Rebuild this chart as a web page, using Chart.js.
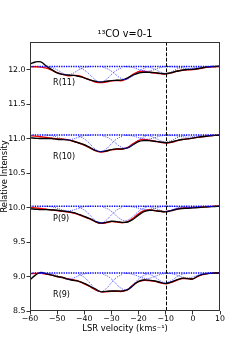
<!DOCTYPE html>
<html>
<head>
<meta charset="utf-8">
<script src="https://cdn.jsdelivr.net/npm/chart.js@4"></script>
<style>
  html, body { margin: 0; padding: 0; background: #fff; }
  #wrap { width: 245px; height: 350px; }
</style>
</head>
<body>
<div id="wrap"><canvas id="spec"></canvas></div>
<script>
// velocity grid (km/s) for observed + model spectra
const vel = [-60,-58,-56,-54,-52,-50,-48,-46,-44,-42,-40,-38,-36,-34,-32,-30,-28,-26,
             -24,-22,-20,-18,-16,-14,-12,-10,-8,-6,-4,-2,0,2,4,6,8,10];

const specNames = ["R(11)", "R(10)", "P(9)", "R(9)"];
const baseLevel = [12.045, 11.05, 10.02, 9.05];

const obsR11 = [12.08,12.11,12.11,12.05,12.00,11.95,11.93,11.92,11.915,11.90,11.88,11.85,11.83,11.82,11.83,11.84,11.845,11.85,
                11.88,11.92,11.95,11.96,11.96,11.955,11.945,11.94,11.955,11.975,11.99,12.0,12.005,12.015,12.03,12.04,12.045,12.05];
const modR11 = [12.04,12.04,12.035,12.02,11.99,11.955,11.93,11.91,11.915,11.91,11.88,11.85,11.82,11.81,11.82,11.835,11.84,11.84,
                11.87,11.93,11.97,11.975,11.96,11.95,11.94,11.935,11.95,11.975,11.99,11.995,12.0,12.01,12.025,12.035,12.04,12.045];

const obsR10 = [11.01,11.005,11.0,11.0,11.0,10.99,10.985,10.98,10.96,10.935,10.91,10.87,10.83,10.81,10.82,10.84,10.85,10.85,
                10.865,10.91,10.955,10.97,10.97,10.96,10.95,10.94,10.95,10.97,10.985,10.995,11.005,11.02,11.03,11.04,11.045,11.05];
const modR10 = [11.04,11.035,11.025,11.015,11.005,10.995,10.99,10.98,10.96,10.935,10.905,10.865,10.825,10.805,10.815,10.835,10.845,10.845,
                10.87,10.925,10.97,10.985,10.975,10.96,10.945,10.935,10.945,10.965,10.985,10.995,11.005,11.02,11.03,11.04,11.045,11.05];

const obsP9 = [9.98,9.975,9.97,9.97,9.965,9.96,9.95,9.94,9.925,9.90,9.87,9.84,9.80,9.775,9.785,9.80,9.795,9.785,
               9.79,9.83,9.89,9.94,9.96,9.955,9.945,9.94,9.955,9.975,9.985,9.99,9.995,10.0,10.005,10.01,10.015,10.02];
const modP9 = [10.0,9.995,9.985,9.975,9.965,9.955,9.945,9.935,9.92,9.895,9.865,9.835,9.795,9.77,9.78,9.795,9.79,9.78,
               9.795,9.845,9.91,9.955,9.965,9.955,9.945,9.94,9.955,9.975,9.99,9.995,10.0,10.005,10.01,10.015,10.02,10.02];

const obsR9 = [8.95,9.02,9.06,9.04,9.02,9.0,8.985,8.96,8.945,8.93,8.90,8.86,8.82,8.78,8.785,8.79,8.79,8.79,
               8.81,8.87,8.93,8.95,8.945,8.935,8.915,8.90,8.92,8.95,8.975,8.97,8.965,9.01,9.035,9.045,9.05,9.05];
const modR9 = [9.04,9.045,9.045,9.035,9.02,9.0,8.985,8.965,8.95,8.93,8.895,8.855,8.81,8.78,8.78,8.785,8.785,8.785,
               8.81,8.88,8.925,8.945,8.94,8.93,8.91,8.895,8.915,8.945,8.97,8.97,8.965,9.005,9.03,9.045,9.05,9.05];

// velocity grids of the six fitted components
const compVel = [
  [-54,-52,-50,-48,-46,-44,-42,-40,-38],
  [-42,-40,-38,-36,-34,-32,-30,-28,-26],
  [-33,-31,-29,-27,-25,-23,-21,-19,-17],
  [-25,-23,-21,-19,-17,-15,-13,-11,-9],
  [-18,-16,-14,-12,-10,-8,-6,-4,-2],
  [-10,-8,-6,-4,-2,0,2,4,6]
];

const compR11 = [
  [12.041,12.029,11.996,11.949,11.925,11.949,11.996,12.029,12.041],
  [12.029,11.993,11.928,11.854,11.82,11.854,11.928,11.993,12.029],
  [12.032,12.001,11.946,11.884,11.855,11.884,11.946,12.001,12.032],
  [12.043,12.036,12.016,11.989,11.975,11.989,12.016,12.036,12.043],
  [12.042,12.032,12.004,11.965,11.945,11.965,12.004,12.032,12.042],
  [12.044,12.041,12.033,12.021,12.015,12.021,12.033,12.041,12.044]
];
const compR10 = [
  [11.048,11.041,11.021,10.994,10.98,10.994,11.021,11.041,11.048],
  [11.033,10.995,10.925,10.846,10.81,10.846,10.925,10.995,11.033],
  [11.037,11.006,10.951,10.889,10.86,10.889,10.951,11.006,11.037],
  [11.048,11.042,11.025,11.002,10.99,11.002,11.025,11.042,11.048],
  [11.047,11.037,11.009,10.97,10.95,10.97,11.009,11.037,11.047],
  [11.049,11.046,11.038,11.026,11.02,11.026,11.038,11.046,11.049]
];
const compP9 = [
  [10.018,10.011,9.991,9.964,9.95,9.964,9.991,10.011,10.018],
  [10.003,9.964,9.893,9.812,9.775,9.812,9.893,9.964,10.003],
  [10.005,9.972,9.911,9.842,9.81,9.842,9.911,9.972,10.005],
  [10.019,10.013,10.0,9.98,9.97,9.98,10.0,10.013,10.019],
  [10.018,10.01,9.989,9.96,9.945,9.96,9.989,10.01,10.018],
  [10.019,10.017,10.012,10.004,10.0,10.004,10.012,10.017,10.019]
];
const compR9 = [
  [9.047,9.038,9.013,8.978,8.96,8.978,9.013,9.038,9.047],
  [9.031,8.988,8.91,8.821,8.78,8.821,8.91,8.988,9.031],
  [9.033,8.995,8.925,8.846,8.81,8.846,8.925,8.995,9.033],
  [9.048,9.039,9.017,8.986,8.97,8.986,9.017,9.039,9.048],
  [9.046,9.031,8.993,8.938,8.91,8.938,8.993,9.031,9.046],
  [9.048,9.041,9.021,8.994,8.98,8.994,9.021,9.041,9.048]
];

const obsAll = [obsR11, obsR10, obsP9, obsR9];
const modAll = [modR11, modR10, modP9, modR9];
const compAll = [compR11, compR10, compP9, compR9];

const xTicks = [-60,-50,-40,-30,-20,-10,0,10];
const yTicks = [8.5,9.0,9.5,10.0,10.5,11.0,11.5,12.0];
const refVel = -10;
// where the transition names sit, in data units
const labelVel = -51.5;
const labelY = [11.80, 10.74, 9.84, 8.73];

const FONT = "'DejaVu Sans', sans-serif";

function pts(xs, ys) {
  return xs.map((x, i) => ({ x: x, y: ys[i] }));
}

const datasets = [];
specNames.forEach((name, s) => {
  datasets.push({
    data: pts([vel[0], vel[vel.length - 1]], [baseLevel[s], baseLevel[s]]),
    borderColor: "#0000ff", borderWidth: 1.5, borderDash: [1.3, 1.1],
    pointRadius: 0, order: 1
  });
  compAll[s].forEach((c, k) => {
    datasets.push({
      data: pts(compVel[k], c),
      borderColor: "rgba(30,30,255,0.8)", borderWidth: 1, borderDash: [1, 1.2],
      pointRadius: 0, tension: 0.4, order: 1
    });
  });
  datasets.push({
    data: pts(vel, obsAll[s]),
    borderColor: "#000", borderWidth: 1.4, pointRadius: 0, tension: 0.4, order: 2
  });
  datasets.push({
    data: pts(vel, modAll[s]),
    borderColor: "#ff0000", borderWidth: 1.4, pointRadius: 0, tension: 0.4, order: 3
  });
});

const extras = {
  id: "extras",
  afterDatasetsDraw(chart) {
    const { ctx, chartArea: a, scales: { x, y } } = chart;
    ctx.save();
    // reference velocity
    const px = Math.round(x.getPixelForValue(refVel)) + 0.5;
    ctx.strokeStyle = "#000";
    ctx.lineWidth = 1;
    ctx.setLineDash([3.7, 1.6]);
    ctx.beginPath();
    ctx.moveTo(px, a.top);
    ctx.lineTo(px, a.bottom);
    ctx.stroke();
    ctx.setLineDash([]);
    // labels
    ctx.fillStyle = "#000";
    ctx.font = "8px " + FONT;
    ctx.textAlign = "left";
    ctx.textBaseline = "middle";
    specNames.forEach((n, i) => {
      ctx.fillText(n, x.getPixelForValue(labelVel), y.getPixelForValue(labelY[i]));
    });
    // frame
    ctx.strokeStyle = "#333";
    ctx.lineWidth = 1;
    ctx.strokeRect(Math.round(a.left) + 0.5, Math.round(a.top) + 0.5,
                   Math.round(a.right - a.left) - 1, Math.round(a.bottom - a.top) - 1);
    ctx.restore();
  }
};

new Chart(document.getElementById("spec"), {
  type: "line",
  data: { datasets: datasets },
  options: {
    responsive: true,
    maintainAspectRatio: false,
    animation: false,
    layout: { padding: { left: 0, right: 25, top: 0, bottom: 0 } },
    plugins: {
      legend: { display: false },
      tooltip: { enabled: false },
      title: {
        display: true,
        fullSize: false,
        text: "\u00B9\u00B3CO v=0-1",
        color: "#000",
        font: { family: FONT, size: 9.7, weight: "normal" },
        padding: { top: 28.5, bottom: 1.8 }
      }
    },
    scales: {
      x: {
        type: "linear",
        min: -60, max: 10,
        afterBuildTicks: (sc) => { sc.ticks = xTicks.map(v => ({ value: v })); },
        afterFit: (sc) => { sc.height = 39; },
        border: { display: false },
        grid: { drawOnChartArea: false, drawTicks: true, tickLength: 3.5, color: "#333" },
        ticks: {
          padding: 0, color: "#000", maxRotation: 0,
          font: { family: FONT, size: 7.8 },
          callback: (v) => String(v).replace("-", "\u2212")
        },
        title: {
          display: true, text: "LSR velocity (kms\u207B\u00B9)", color: "#000",
          font: { family: FONT, size: 8.4 }, padding: { top: 0, bottom: 16 }
        }
      },
      y: {
        min: 8.5, max: 12.4,
        afterBuildTicks: (sc) => { sc.ticks = yTicks.map(v => ({ value: v })); },
        afterFit: (sc) => { sc.width = 30; },
        border: { display: false },
        grid: { drawOnChartArea: false, drawTicks: true, tickLength: 3.5, color: "#333" },
        ticks: {
          padding: 1, color: "#000",
          font: { family: FONT, size: 7.8 },
          callback: (v) => Number(v).toFixed(1)
        },
        title: {
          display: true, text: "Relative Intensity", color: "#000",
          font: { family: FONT, size: 8.3 }, padding: { top: 0, bottom: 0 }
        }
      }
    }
  },
  plugins: [extras]
});
</script>
</body>
</html>
